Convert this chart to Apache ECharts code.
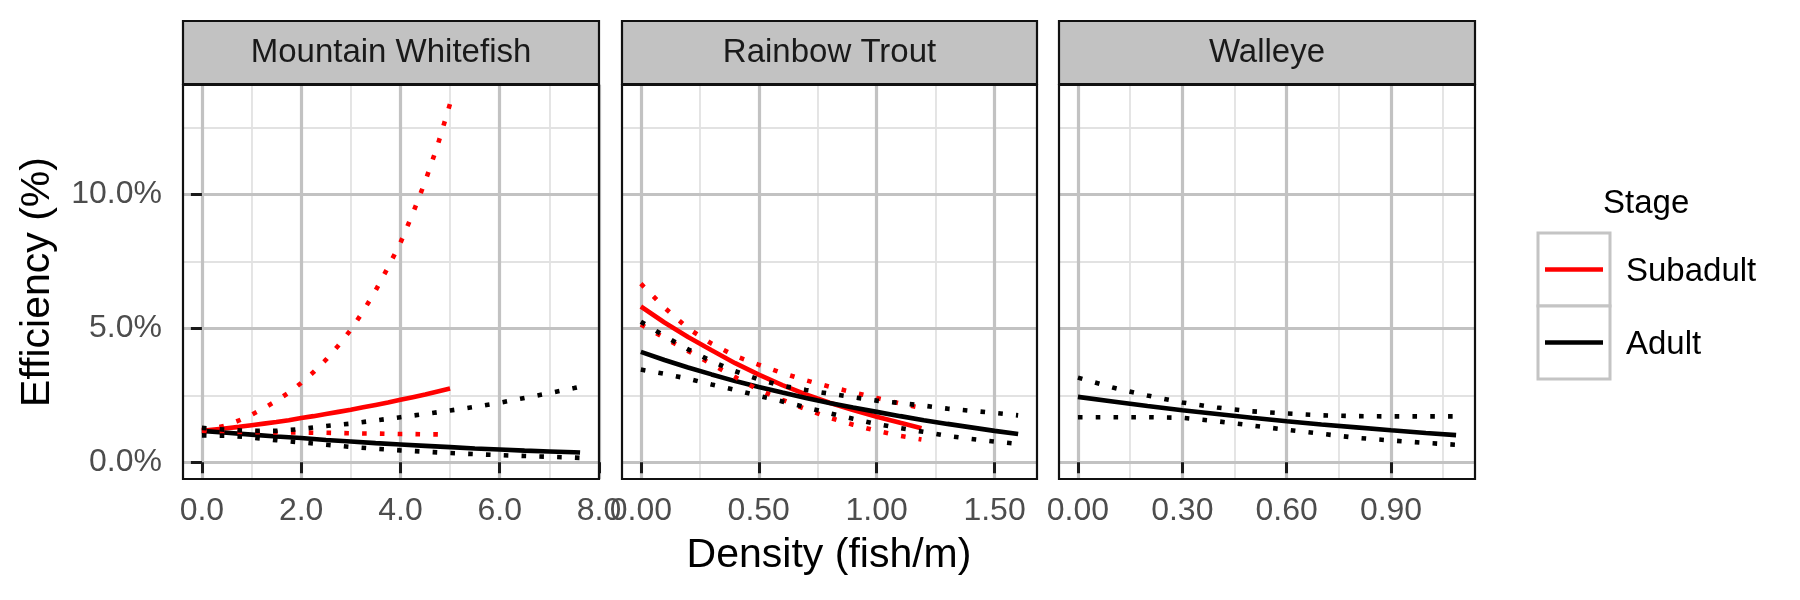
<!DOCTYPE html>
<html><head><meta charset="utf-8">
<script src="https://cdn.jsdelivr.net/npm/echarts@6/dist/echarts.min.js"></script>
<style>html,body{margin:0;padding:0;background:#fff}#c{width:1800px;height:600px}</style>
</head><body><div id="c"></div>
<script>
// ---------- data ----------
const panelNames = ['Mountain Whitefish', 'Rainbow Trout', 'Walleye'];
const stageNames = ['Subadult', 'Adult'];
const yTicks = [0, 5, 10];
const yMinorTicks = [2.5, 7.5, 12.5];
const mwTicks = [0, 2, 4, 6, 8];
const mwMinorTicks = [1, 3, 5, 7];
const rtTicks = [0, 0.5, 1.0, 1.5];
const rtMinorTicks = [0.25, 0.75, 1.25];
const waTicks = [0, 0.3, 0.6, 0.9];
const waMinorTicks = [0.15, 0.45, 0.75, 1.05];

// Mountain Whitefish - Subadult
const mwSubX = [0,0.25,0.5,0.75,1,1.25,1.5,1.75,2,2.25,2.5,2.75,3,3.25,3.5,3.75,4,4.25,4.5,4.75,5];
const mwSubFit = [1.17,1.22,1.27,1.32,1.38,1.44,1.50,1.57,1.65,1.72,1.80,1.88,1.96,2.05,2.14,2.23,2.33,2.43,2.53,2.64,2.75];
const mwSubLow = [1.13,1.13,1.13,1.12,1.12,1.12,1.11,1.11,1.11,1.10,1.10,1.09,1.08,1.07,1.07,1.06,1.05,1.05,1.04,1.04,1.03];
const mwSubUp = [1.20,1.27,1.38,1.56,1.77,2.02,2.29,2.60,2.96,3.37,3.83,4.36,4.95,5.64,6.42,7.28,8.20,9.30,10.50,11.85,13.40];
// Mountain Whitefish - Adult
const mwAdX = [0,0.5,1,1.5,2,2.5,3,3.5,4,4.5,5,5.5,6,6.5,7,7.5,7.62];
const mwAdFit = [1.17,1.10,1.03,0.96,0.90,0.83,0.77,0.71,0.66,0.61,0.56,0.51,0.47,0.43,0.40,0.37,0.36];
const mwAdLow = [1.00,0.99,0.92,0.82,0.74,0.65,0.57,0.50,0.44,0.39,0.34,0.30,0.26,0.23,0.20,0.17,0.16];
const mwAdUp = [1.28,1.21,1.17,1.17,1.24,1.35,1.44,1.56,1.68,1.80,1.93,2.07,2.22,2.40,2.58,2.77,2.82];
// Rainbow Trout - Subadult
const rtSubX = [0,0.1,0.2,0.3,0.4,0.5,0.6,0.7,0.8,0.9,1.0,1.1,1.19];
const rtSubFit = [5.82,5.22,4.68,4.18,3.70,3.27,2.88,2.53,2.22,1.95,1.70,1.47,1.27];
const rtSubLow = [5.15,4.65,4.16,3.66,3.18,2.70,2.33,1.98,1.66,1.40,1.17,0.98,0.85];
const rtSubUp = [6.67,5.78,5.00,4.43,3.97,3.64,3.33,3.06,2.82,2.61,2.40,2.19,2.03];
// Rainbow Trout - Adult
const rtAdX = [0,0.1,0.2,0.3,0.4,0.5,0.6,0.7,0.8,0.9,1.0,1.1,1.2,1.3,1.4,1.5,1.6];
const rtAdFit = [4.12,3.82,3.54,3.28,3.03,2.81,2.60,2.40,2.21,2.04,1.88,1.72,1.57,1.43,1.30,1.17,1.05];
const rtAdLow = [3.46,3.30,3.12,2.90,2.70,2.48,2.27,2.05,1.83,1.62,1.43,1.27,1.13,0.98,0.87,0.77,0.68];
const rtAdUp = [5.25,4.72,4.22,3.77,3.40,3.09,2.85,2.70,2.56,2.43,2.30,2.21,2.11,2.00,1.92,1.84,1.75];
// Walleye - Adult
const waAdX = [0,0.1,0.2,0.3,0.4,0.5,0.6,0.7,0.8,0.9,1.0,1.087];
const waAdFit = [2.44,2.27,2.10,1.94,1.80,1.66,1.53,1.41,1.30,1.19,1.09,1.01];
const waAdLow = [1.68,1.68,1.68,1.66,1.53,1.37,1.21,1.06,0.91,0.81,0.72,0.65];
const waAdUp = [3.16,2.79,2.49,2.23,2.04,1.90,1.82,1.75,1.72,1.71,1.71,1.71];

// ---------- layout ----------
const FONT = '"Liberation Sans", Arial, Helvetica, sans-serif';
const stageColor = { Subadult: '#ff0000', Adult: '#000000' };
const gridBoxes = [
  { left: 183, width: 416 },
  { left: 622, width: 415 },
  { left: 1059, width: 416 }
];
const gridTop = 85, gridHeight = 394;
const xRanges = [[-0.381, 8.001], [-0.08, 1.68], [-0.0544, 1.1414]];
const yRange = [-0.63, 14.1];
const majorTicks = [mwTicks, rtTicks, waTicks];
const minorTicks = [mwMinorTicks, rtMinorTicks, waMinorTicks];
const xDecimals = [1, 2, 2];

const grids = [], xAxes = [], yAxes = [], series = [], graphics = [];

gridBoxes.forEach((g, i) => {
  grids.push({ left: g.left, top: gridTop, width: g.width, height: gridHeight, show: false, containLabel: false });
  // minor x axis (index 2i)
  xAxes.push({
    type: 'value', gridIndex: i, position: 'bottom', min: xRanges[i][0], max: xRanges[i][1], z: 1,
    axisLine: { show: false }, axisLabel: { show: false, customValues: minorTicks[i] },
    axisTick: { show: false, customValues: minorTicks[i] },
    splitLine: { show: true, lineStyle: { color: '#e2e2e2', width: 1.8 } }
  });
  // major x axis (index 2i+1)
  xAxes.push({
    type: 'value', gridIndex: i, position: 'bottom', min: xRanges[i][0], max: xRanges[i][1], z: 2,
    axisLine: { show: false },
    axisTick: { show: true, inside: false, length: 11, customValues: majorTicks[i], lineStyle: { color: '#1a1a1a', width: 3 } },
    axisLabel: {
      show: true, customValues: majorTicks[i], margin: 16, color: '#4d4d4d', fontSize: 32, fontFamily: FONT,
      formatter: v => Number(v).toFixed(xDecimals[i])
    },
    splitLine: { show: true, lineStyle: { color: '#c2c2c2', width: 3.2 } }
  });
  yAxes.push({
    type: 'value', gridIndex: i, position: 'left', min: yRange[0], max: yRange[1], z: 1,
    axisLine: { show: false }, axisLabel: { show: false, customValues: yMinorTicks },
    axisTick: { show: false, customValues: yMinorTicks },
    splitLine: { show: true, lineStyle: { color: '#e2e2e2', width: 1.8 } }
  });
  yAxes.push({
    type: 'value', gridIndex: i, position: 'left', min: yRange[0], max: yRange[1], z: 2,
    axisLine: { show: false },
    axisTick: { show: i === 0, inside: false, length: 11, customValues: yTicks, lineStyle: { color: '#1a1a1a', width: 3 } },
    axisLabel: {
      show: i === 0, customValues: yTicks, margin: 21, color: '#4d4d4d', fontSize: 32, fontFamily: FONT,
      formatter: v => Number(v).toFixed(1) + '%'
    },
    splitLine: { show: true, lineStyle: { color: '#c2c2c2', width: 3.2 } }
  });
  // panel border
  graphics.push({
    type: 'rect', z: 100, silent: true,
    shape: { x: g.left, y: gridTop, width: g.width, height: gridHeight },
    style: { fill: 'none', stroke: '#111', lineWidth: 2.2 }
  });
  // strip
  graphics.push({
    type: 'rect', z: 100, silent: true,
    shape: { x: g.left, y: 21, width: g.width, height: 63 },
    style: { fill: '#c2c2c2', stroke: '#111', lineWidth: 2.2 }
  });
  graphics.push({
    type: 'text', z: 101, silent: true, x: g.left + g.width / 2, y: 53,
    style: { text: panelNames[i], font: '33px ' + FONT, fill: '#1a1a1a', align: 'center', verticalAlign: 'middle' }
  });
});

function pairs(xs, ys) { return xs.map((x, k) => [x, ys[k]]); }
const dotted = [4.6, 13.2];

const panelData = [
  { Subadult: [mwSubX, mwSubFit, mwSubLow, mwSubUp], Adult: [mwAdX, mwAdFit, mwAdLow, mwAdUp] },
  { Subadult: [rtSubX, rtSubFit, rtSubLow, rtSubUp], Adult: [rtAdX, rtAdFit, rtAdLow, rtAdUp] },
  { Adult: [waAdX, waAdFit, waAdLow, waAdUp] }
];

// draw order: fits (red, black), lower (red, black), upper (red, black)
[1, 2, 3].forEach(part => {
  panelData.forEach((pd, i) => {
    stageNames.forEach(st => {
      const d = pd[st];
      if (!d) return;
      series.push({
        type: 'line', name: st, xAxisIndex: 2 * i + 1, yAxisIndex: 2 * i + 1,
        data: pairs(d[0], d[part]), showSymbol: false, symbol: 'none', z: 3,
        silent: true,
        lineStyle: {
          color: stageColor[st], width: 4.6,
          type: part === 1 ? 'solid' : dotted, cap: 'butt'
        }
      });
    });
  });
});

// axis titles
graphics.push({
  type: 'text', z: 101, silent: true, x: 829, y: 556,
  style: { text: 'Density (fish/m)', font: '41px ' + FONT, fill: '#000', align: 'center', verticalAlign: 'middle' }
});
graphics.push({
  type: 'text', z: 101, silent: true, x: 38, y: 282, rotation: Math.PI / 2,
  style: { text: 'Efficiency (%)', font: '41px ' + FONT, fill: '#000', align: 'center', verticalAlign: 'middle' }
});

// legend
graphics.push({
  type: 'text', z: 101, silent: true, x: 1603, y: 204,
  style: { text: 'Stage', font: '33px ' + FONT, fill: '#000', align: 'left', verticalAlign: 'middle' }
});
stageNames.forEach((st, k) => {
  const top = 233 + k * 73;
  graphics.push({
    type: 'rect', z: 100, silent: true,
    shape: { x: 1538, y: top, width: 72, height: 73 },
    style: { fill: '#fff', stroke: '#c4c4c4', lineWidth: 3 }
  });
  graphics.push({
    type: 'line', z: 101, silent: true,
    shape: { x1: 1545, y1: top + 36.5, x2: 1603, y2: top + 36.5 },
    style: { stroke: stageColor[st], lineWidth: 4.6 }
  });
  graphics.push({
    type: 'text', z: 101, silent: true, x: 1626, y: top + 38.5,
    style: { text: st, font: '33px ' + FONT, fill: '#000', align: 'left', verticalAlign: 'middle' }
  });
});

const chart = echarts.init(document.getElementById('c'), null, { renderer: 'canvas' });
chart.setOption({
  animation: false,
  backgroundColor: '#ffffff',
  textStyle: { fontFamily: FONT },
  grid: grids,
  xAxis: xAxes,
  yAxis: yAxes,
  series: series,
  graphic: { elements: graphics }
});
</script>
</body></html>
